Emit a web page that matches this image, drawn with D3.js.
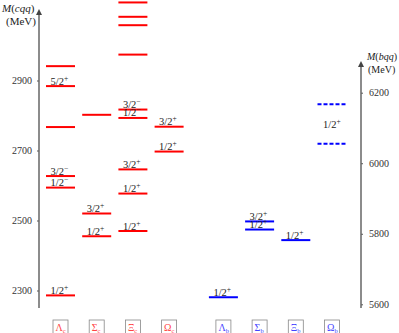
<!DOCTYPE html>
<html>
<head>
<meta charset="utf-8">
<script src="https://cdn.jsdelivr.net/npm/d3@7"></script>
<style>
body{margin:0;background:#fff}
svg{display:block;font-family:"Liberation Serif",serif}
</style>
</head>
<body>
<svg width="399" height="333"></svg>
<script>
// charm baryons, masses in MeV (left axis)
const cNames = ["Λ","Σ","Ξ","Ω"]
const cMass = [
	[2286, 2594, 2627, 2767, 2884, 2941],
	[2455, 2520, 2802],
	[2470, 2577, 2646, 2793, 2817, 2974, 3058, 3082, 3123],
	[2697, 2768]
]
const cSpin = [
	["1/2+", "1/2−", "3/2−", "", "5/2+", ""],
	["1/2+", "3/2+", ""],
	["1/2+", "1/2+", "3/2+", "1/2−", "3/2−", "", "", "", ""],
	["1/2+", "3/2+"]
]
// bottom baryons (right axis)
const bNames = ["Λ","Σ","Ξ","Ω"]
const bMass = [
	[5620],
	[5812, 5835],
	[5782],
	[6055, 6167]
]
const bSpin = [
	["1/2+"],
	["1/2+", "3/2+"],
	["1/2+"],
	["", ""]
]
const cTicks = [2300, 2500, 2700, 2900]
const bTicks = [5600, 5800, 6000, 6200]

const svg = d3.select("svg")
const x = d3.scaleLinear().domain([0, 7.5]).range([60.5, 332])
const yc = d3.scaleLinear().domain([2300, 2900]).range([290.5, 80.5])
const yb = d3.scaleLinear().domain([5600, 6200]).range([304.3, 92.7])
const half = 14.5
const red = "#f00", blue = "#00f"

// arrow marker
svg.append("defs").append("marker")
	.attr("id", "arr").attr("viewBox", "0 0 6 6")
	.attr("refX", 3).attr("refY", 3)
	.attr("markerWidth", 4).attr("markerHeight", 4)
	.attr("orient", "auto")
	.append("path").attr("d", "M0,0L6,3L0,6z").attr("fill", "#444")

function axis(g, xpos, top, gen){
	g.attr("transform", `translate(${xpos},0)`).call(gen)
	g.select(".domain").remove()
	g.selectAll(".tick line").attr("stroke", "#555")
	g.selectAll(".tick text").attr("font-family", "Liberation Serif").attr("font-size", 10).attr("fill", "#333")
	g.append("line").attr("x1", 0).attr("x2", 0).attr("y1", 308).attr("y2", top)
		.attr("stroke", "#666").attr("stroke-width", 1.5).attr("marker-end", "url(#arr)")
}
axis(svg.append("g"), 39, 12,
	d3.axisLeft(yc).tickValues(cTicks).tickSizeInner(2).tickSizeOuter(0).tickPadding(5).tickFormat(d3.format("d")))
axis(svg.append("g"), 361, 64,
	d3.axisRight(yb).tickValues(bTicks).tickSizeInner(2).tickSizeOuter(0).tickPadding(6).tickFormat(d3.format("d")))

function axisTitle(tx, ty, q, fs, indent){
	const t = svg.append("text").attr("x", tx).attr("y", ty).attr("font-size", fs).attr("fill", "#222")
	t.append("tspan").attr("font-style", "italic").text("M")
	t.append("tspan").text("(")
	t.append("tspan").attr("font-style", "italic").text(q)
	t.append("tspan").text(")")
	svg.append("text").attr("x", tx + indent).attr("y", ty + 13).attr("font-size", fs).attr("fill", "#222").text("(MeV)")
}
axisTitle(2, 12, "cqq", 11, 4)
axisTitle(367, 60, "bqq", 10, 1)

function spinLabel(cx, cy, s){
	if(!s) return
	const t = svg.append("text").attr("x", cx - 10).attr("y", cy).attr("font-size", 10.5).attr("fill", "#222")
	t.append("tspan").text(s.slice(0, 3))
	t.append("tspan").attr("font-size", 7.5).attr("dy", -4).text(s.slice(3) === "−" ? "−" : "+")
}

function family(names, mass, spin, y, x0, color, sub){
	names.forEach((n, i) => {
		const cx = x(x0 + i)
		const dashed = (sub === "b" && i === 3)
		svg.append("g").selectAll("line").data(mass[i]).join("line")
			.attr("x1", cx - half).attr("x2", cx + half)
			.attr("y1", d => y(d)).attr("y2", d => y(d))
			.attr("stroke", color).attr("stroke-width", 2)
			.attr("stroke-dasharray", dashed ? "4,2" : null)
		mass[i].forEach((m, j) => spinLabel(cx, y(m) - 1.5, spin[i][j]))
		// name box
		svg.append("rect").attr("x", cx - 7.5).attr("y", 320).attr("width", 15).attr("height", 15)
			.attr("fill", "#fff").attr("stroke", "#888").attr("stroke-width", 0.8)
		const t = svg.append("text").attr("x", cx - 5).attr("y", 331).attr("font-size", 10).attr("fill", color === red ? "#f44" : "#44f")
		t.append("tspan").text(n)
		t.append("tspan").attr("font-size", 6.5).attr("dy", 2).text(sub)
	})
}
family(cNames, cMass, cSpin, yc, 0, red, "c")
family(bNames, bMass, bSpin, yb, 4.5, blue, "b")

// Omega_b label between the dashed levels
spinLabel(x(7.5) + 1, (yb(6055) + yb(6167)) / 2 + 4, "1/2+")
</script>
</body>
</html>
